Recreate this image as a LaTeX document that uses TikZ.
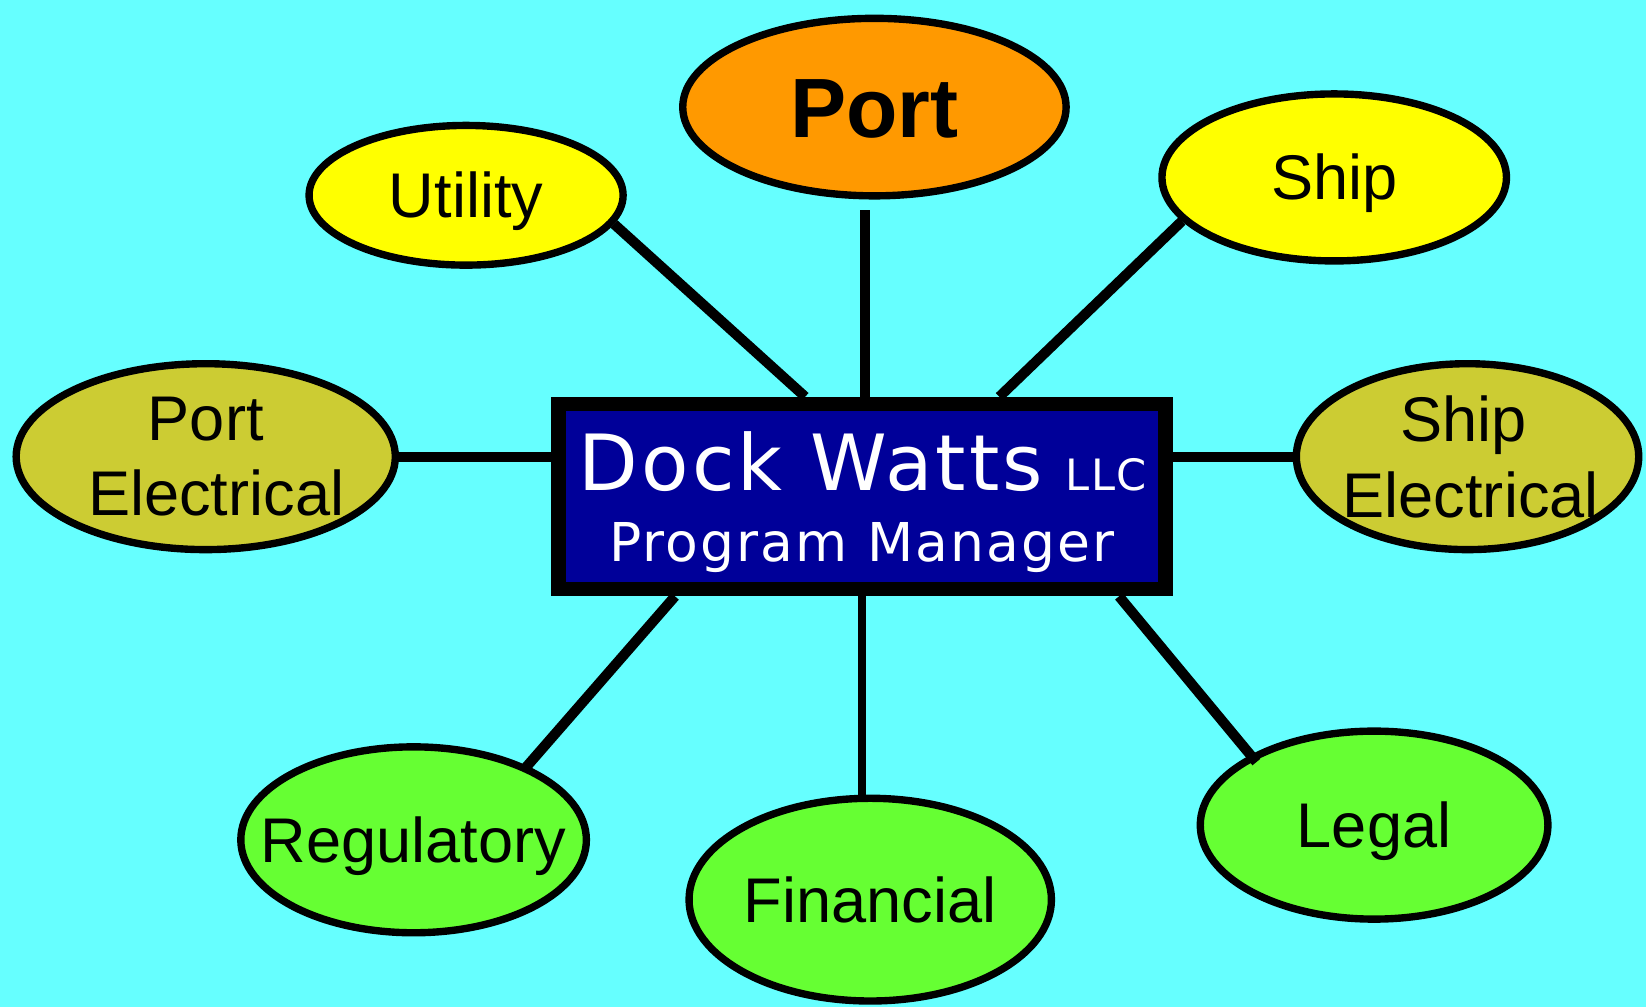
\documentclass[tikz,border=0pt]{standalone}
\usepackage{fontspec}
\setmainfont{Liberation Sans}
\newfontfamily\dvs[LetterSpace=4]{DejaVu Sans}
\usetikzlibrary{shapes.geometric}
\pgfdeclarelayer{fg}
\pgfsetlayers{main,fg}
\definecolor{bgc}{HTML}{66FFFF}
\definecolor{orangec}{HTML}{FF9900}
\definecolor{yellowc}{HTML}{FFFF00}
\definecolor{olivec}{HTML}{CCCC33}
\definecolor{greenc}{HTML}{66FF33}
\definecolor{navyc}{HTML}{000099}
\begin{document}
\begin{tikzpicture}[x=0.01cm,y=-0.01cm,
  bub/.style={ellipse, draw=black, line width=2pt, inner sep=0pt},
  lbl/.style={font=\fontsize{17.1}{20.5}\selectfont, align=center, inner sep=0pt},
  one/.style={text height=12.2pt, text depth=0pt},
  link/.style={line width=2.75pt, draw=black},
  thinlink/.style={line width=2.1pt, draw=black}
]
\fill[bgc] (0,0) rectangle (1568,959);
\useasboundingbox (0,0) rectangle (1568,959);

\begin{pgfonlayer}{fg}
\node[draw=black, fill=navyc, line width=3.98pt, minimum width=5.78cm, minimum height=1.76cm, inner sep=0pt] (box) at (821,473) {};
\node[anchor=base, text=white, inner sep=0pt, font=\dvs\fontsize{21}{25}\selectfont] (title) at (822,467) {Dock Watts\hspace{-1.5pt} {\fontsize{11.7}{14}\selectfont LLC}};
\node[anchor=base, text=white, inner sep=0pt, font=\dvs\fontsize{14.5}{17}\selectfont] (sub) at (821,535) {Program Manager};
\end{pgfonlayer}

\node[bub, fill=orangec, minimum width=3.65cm, minimum height=1.69cm,
  label={[lbl, font=\bfseries\fontsize{22.8}{27}\selectfont, text height=16.3pt, text depth=0pt]center:Port}] (port) at (833,102) {};
\node[bub, fill=yellowc, minimum width=2.99cm, minimum height=1.33cm,
  label={[lbl, one]center:Utility}] (util) at (444,186) {};
\node[bub, fill=yellowc, minimum width=3.28cm, minimum height=1.59cm,
  label={[lbl, one]center:Ship}] (ship) at (1271,169) {};
\node[bub, fill=olivec, minimum width=3.61cm, minimum height=1.77cm,
  label={[lbl]center:Port\\\hspace*{0.2cm}Electrical}] (pe) at (196,435) {};
\node[bub, fill=olivec, minimum width=3.26cm, minimum height=1.77cm,
  label={[lbl]center:Ship\hspace*{0.08cm}\\\hspace*{0.06cm}Electrical}] (se) at (1398,435) {};
\node[bub, fill=greenc, minimum width=3.29cm, minimum height=1.77cm,
  label={[lbl, one]center:Regulatory}] (reg) at (394,800) {};
\node[bub, fill=greenc, minimum width=3.45cm, minimum height=1.93cm,
  label={[lbl, one]center:Financial}] (fin) at (829,857) {};
\node[bub, fill=greenc, minimum width=3.31cm, minimum height=1.79cm,
  label={[lbl, one]center:Legal}] (legal) at (1309,786) {};

\draw[link] (util.-11) -- ([shift={(-54,0)}]box.north);
\draw[link] ([shift={(-9,10)}]port.south) -- ([shift={(3,0)}]box.north);
\draw[link] (ship.196) -- ([shift={(131,0)}]box.north);
\draw[link] (pe.east) -- (pe.east -| box.west);
\draw[link] (se.west) -- (se.west -| box.east);
\draw[link] ([shift={(3,4)}]reg.35) -- ([shift={(-178,0)}]box.south);
\draw[thinlink] (box.south) -- (box.south |- fin.north);
\draw[link] ([shift={(7,6)}]legal.151) -- ([shift={(245,0)}]box.south);
\end{tikzpicture}
\end{document}
